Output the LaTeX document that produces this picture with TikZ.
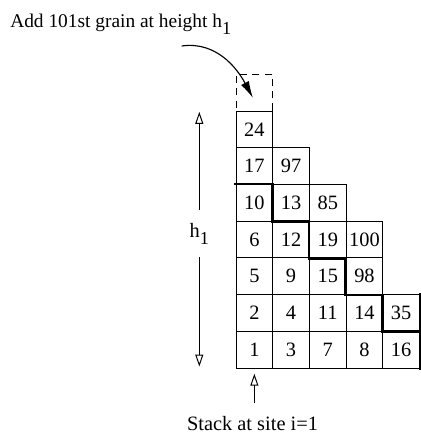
\documentclass[tikz,border=0pt]{standalone}
\usepackage{fontspec}
\setmainfont{Liberation Serif}
\usepackage{tikz}
\usetikzlibrary{arrows.meta,positioning,calc}

\newcommand{\hone}{h\raisebox{-0.75ex}{\fontsize{13}{15}\selectfont 1}}

\begin{document}
\begin{tikzpicture}[
    x=0.9175cm,y=0.9175cm,
    every node/.style={font=\fontsize{14.5}{17}\selectfont},
    cell/.style={draw=black,line width=0.7pt,minimum size=0.9175cm,inner sep=0pt},
    newgrain/.style={cell,dash pattern=on 1.8mm off 1.3mm},
    topple/.style={line width=1.9pt,line cap=rect},
    height/.style={-{Triangle[open,length=3mm,width=2mm]},line width=0.7pt},
    drop/.style={-{Latex[length=4.2mm,width=2.2mm]},line width=0.8pt}
  ]
    \useasboundingbox (-6.43,-1.77) rectangle (5.014,10.027);
    % grain added on top of site 1
    \node[newgrain] (new) at (0.5,7.5) {};
    % the stacks, one list per row from the bottom
    \foreach \vals [count=\j from 0] in {{1,3,7,8,16},{2,4,11,14,35},{5,9,15,98},{6,12,19,100},{10,13,85},{17,97},{24}}
      \foreach \v [count=\i from 0] in \vals
        \node[cell] (c\i\j) at (\i+0.5,\j+0.5) {\v};
    \draw[topple] (c04.north west) -| (c14.south west) -| (c23.south west)
      -| (c32.south west) -| (c41.south west) -- (c41.south east);
    \draw[topple] (c41.north east) -- (c40.south east);
    % height of the first stack
    \node[inner sep=0pt,minimum height=1.156cm] (hlab) at (-1,3.66) {\hone};
    \coordinate (htop) at (-1,6.98);
    \coordinate (hbot) at (-1,0.04);
    \draw[height] (hlab) -- (htop);
    \draw[height] (hlab) -- (hbot);
    % labels
    \node[anchor=base west,inner sep=0pt,font=\fontsize{13.8}{16}\selectfont] (addtxt) at (-6.158,9.264) {Add 101st grain at height \hone};
    \coordinate (dropstart) at (-1.48,8.774);
    \coordinate (droptip) at (0.46,7.36);
    \draw[drop] (dropstart) to[out=8,in=118] (droptip);
    \node[anchor=base,inner sep=0pt] (stack) at (0.45,-1.69) {Stack at site i=1};
    \coordinate (sfoot) at (0.5,-0.95);
    \draw[height] (sfoot) -- ([yshift=-1.3mm]c00.south);
\end{tikzpicture}
\end{document}
